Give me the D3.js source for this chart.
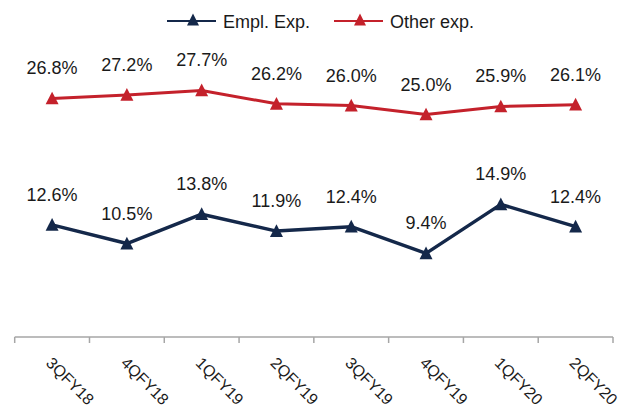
<!DOCTYPE html>
<html>
<head>
<meta charset="utf-8">
<script src="https://cdnjs.cloudflare.com/ajax/libs/d3/7.8.5/d3.min.js"></script>
<style>
  body { margin: 0; background: #fff; }
  text { font-family: "Liberation Sans", Arial, sans-serif; fill: #1a1a1a; }
</style>
</head>
<body>
<svg id="chart" width="641" height="410"></svg>
<script>
var quarters = ['3QFY18', '4QFY18', '1QFY19', '2QFY19', '3QFY19', '4QFY19', '1QFY20', '2QFY20'];
var emplExp = [12.6, 10.5, 13.8, 11.9, 12.4, 9.4, 14.9, 12.4];
var otherExp = [26.8, 27.2, 27.7, 26.2, 26.0, 25.0, 25.9, 26.1];
var seriesNames = ['Empl. Exp.', 'Other exp.'];

var COLORS = { empl: '#14284a', other: '#c4212b' };
var AXIS_Y = 337;

var svg = d3.select('#chart');

var x = d3.scaleBand()
  .domain(quarters)
  .range([14.7, 613])
  .padding(0);

var y = d3.scaleLinear()
  .domain([0, 30])
  .range([AXIS_Y, 70]);

// category axis: plain gray line with ticks between categories
var axis = svg.append('g').attr('class', 'x-axis');
axis.append('line')
  .attr('x1', x.range()[0]).attr('x2', x.range()[1])
  .attr('y1', AXIS_Y).attr('y2', AXIS_Y)
  .attr('stroke', '#a6a6a6').attr('stroke-width', 1.5);

var bounds = quarters.map(function(q) { return x(q); }).concat([x.range()[1]]);
axis.selectAll('.tick')
  .data(bounds)
  .enter()
  .append('line')
  .attr('class', 'tick')
  .attr('x1', function(d) { return d; }).attr('x2', function(d) { return d; })
  .attr('y1', AXIS_Y).attr('y2', AXIS_Y + 6)
  .attr('stroke', '#a6a6a6').attr('stroke-width', 1.5);

axis.selectAll('.tick-label')
  .data(quarters)
  .enter()
  .append('text')
  .attr('class', 'tick-label')
  .attr('font-size', 16)
  .attr('text-anchor', 'start')
  .attr('transform', function(d) {
    return 'translate(' + (x(d) + x.bandwidth() / 2 - 7) + ',' + (AXIS_Y + 27) + ') rotate(45)';
  })
  .text(function(d) { return d; });

function center(d) { return x(d) + x.bandwidth() / 2; }

function triangle(cx, cy, size) {
  var h = size * 0.9;
  return 'M' + cx + ',' + (cy - h / 2 - 1) +
    'L' + (cx + size / 2) + ',' + (cy + h / 2) +
    'L' + (cx - size / 2) + ',' + (cy + h / 2) + 'Z';
}

function drawSeries(values, color, width) {
  var pts = values.map(function(v, i) { return [center(quarters[i]), y(v), v]; });
  var g = svg.append('g');
  g.append('path')
    .attr('d', d3.line()(pts.map(function(p) { return [p[0], p[1]]; })))
    .attr('fill', 'none')
    .attr('stroke', color)
    .attr('stroke-width', width)
    .attr('stroke-linejoin', 'round');

  g.selectAll('.marker')
    .data(pts)
    .enter()
    .append('path')
    .attr('class', 'marker')
    .attr('d', function(p) { return triangle(p[0], p[1], 13); })
    .attr('fill', color);

  g.selectAll('.lbl')
    .data(pts)
    .enter()
    .append('text')
    .attr('class', 'lbl')
    .attr('x', function(p) { return p[0]; })
    .attr('y', function(p) { return p[1] - 24; })
    .attr('text-anchor', 'middle')
    .attr('font-size', 18)
    .text(function(p) { return p[2].toFixed(1) + '%'; });
}

drawSeries(otherExp, COLORS.other, 3);
drawSeries(emplExp, COLORS.empl, 3.5);

// legend
var legendItems = [
  { name: seriesNames[0], color: COLORS.empl, x: 167 },
  { name: seriesNames[1], color: COLORS.other, x: 334 }
];
var legend = svg.append('g').attr('class', 'legend');
var item = legend.selectAll('.series')
  .data(legendItems)
  .enter()
  .append('g')
  .attr('class', 'series')
  .attr('transform', function(d) { return 'translate(' + d.x + ',21)'; });

item.append('line')
  .attr('x1', 0).attr('x2', 49)
  .attr('y1', 0).attr('y2', 0)
  .attr('stroke', function(d) { return d.color; })
  .attr('stroke-width', 2);
item.append('path')
  .attr('d', triangle(26, -1, 12))
  .attr('fill', function(d) { return d.color; });
item.append('text')
  .attr('x', 56)
  .attr('y', 6.5)
  .attr('font-size', 18)
  .text(function(d) { return d.name; });
</script>
</body>
</html>
